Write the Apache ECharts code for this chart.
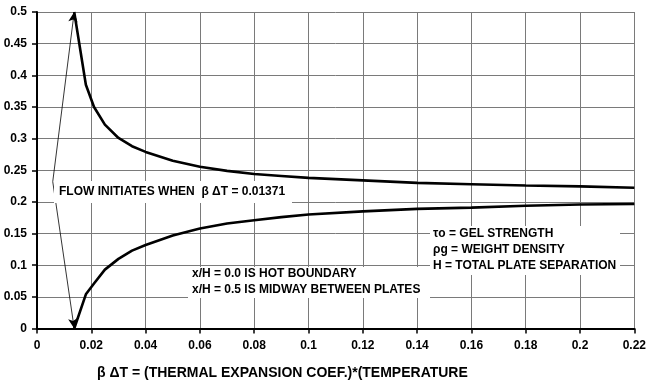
<!DOCTYPE html>
<html><head><meta charset="utf-8">
<script src="https://cdn.jsdelivr.net/npm/echarts@6/dist/echarts.min.js"></script>
<style>html,body{margin:0;padding:0;background:#fff}#c{width:649px;height:386px}</style>
</head><body><div id="c"></div>
<script>
const xValues = [0.01371, 0.018, 0.021, 0.025, 0.03, 0.035, 0.04, 0.05, 0.06, 0.07, 0.08, 0.09, 0.1, 0.12, 0.14, 0.16, 0.18, 0.2, 0.22];
const upperCurve = [0.5, 0.385, 0.35, 0.322, 0.301, 0.288, 0.279, 0.265, 0.2555, 0.249, 0.244, 0.241, 0.238, 0.234, 0.230, 0.228, 0.226, 0.2246, 0.2224];
const lowerCurve = [0, 0.054, 0.071, 0.093, 0.110, 0.123, 0.132, 0.147, 0.158, 0.166, 0.171, 0.176, 0.180, 0.185, 0.189, 0.191, 0.194, 0.196, 0.1967];
const arrowOrigin = [0.0058, 0.232];
const arrowTargets = [[0.01371, 0.5], [0.01371, 0]];
const xTicks = {min: 0, max: 0.22, interval: 0.02};
const yTicks = {min: 0, max: 0.5, interval: 0.05};
const flowNote = "FLOW INITIATES WHEN  \u03b2 \u0394T = 0.01371";
const symbolNotes = ["\u03c4o = GEL STRENGTH", "\u03c1g = WEIGHT DENSITY", "H = TOTAL PLATE SEPARATION"];
const curveNotes = ["x/H = 0.0 IS HOT BOUNDARY", "x/H = 0.5 IS MIDWAY BETWEEN PLATES"];
const xTitle = "\u03b2 \u0394T = (THERMAL EXPANSION COEF.)*(TEMPERATURE";

const FONT = '"Liberation Sans", Arial, sans-serif';
const chart = echarts.init(document.getElementById('c'), null, {renderer: 'canvas'});
const pair = (ys) => xValues.map((x, i) => [x, ys[i]]);
const txt = (s, x, y, size) => ({type: 'text', left: x, top: y, z: 10,
  style: {text: s, fill: '#000', font: 'bold ' + (size || 12) + 'px ' + FONT}});
const box = (x, y, w, h) => ({type: 'rect', shape: {x, y, width: w, height: h}, z: 9,
  style: {fill: '#fff'}});

chart.setOption({
  animation: false,
  grid: {left: 37, right: 12, top: 12, bottom: 57.5, containLabel: false},
  xAxis: {type: 'value', min: xTicks.min, max: xTicks.max, interval: xTicks.interval,
    axisLine: {onZero: false, lineStyle: {color: '#000', width: 2}},
    axisTick: {show: true, inside: false, length: 5, lineStyle: {color: '#000', width: 1.5}},
    axisLabel: {color: '#000', fontWeight: 'bold', fontSize: 12, fontFamily: FONT, margin: 11},
    splitLine: {show: true, lineStyle: {color: '#7a7a7a', width: 1}}},
  yAxis: {type: 'value', min: yTicks.min, max: yTicks.max, interval: yTicks.interval,
    axisLine: {show: true, onZero: false, lineStyle: {color: '#000', width: 2}},
    axisTick: {show: true, inside: false, length: 5, lineStyle: {color: '#000', width: 1.5}},
    axisLabel: {color: '#000', fontWeight: 'bold', fontSize: 12, fontFamily: FONT, margin: 10},
    splitLine: {show: true, lineStyle: {color: '#7a7a7a', width: 1}}},
  series: [
    {type: 'line', data: pair(upperCurve), showSymbol: false, z: 5,
      lineStyle: {color: '#000', width: 2.6},
      markLine: {silent: true, symbol: ['none', 'arrow'], symbolSize: [7, 10], label: {show: false},
        lineStyle: {color: '#000', width: 0.8, type: 'solid'},
        data: arrowTargets.map(t => [{coord: arrowOrigin}, {coord: t}])}},
    {type: 'line', data: pair(lowerCurve), showSymbol: false, z: 5,
      lineStyle: {color: '#000', width: 2.6}}
  ],
  graphic: [
    box(54, 181, 238, 22),
    box(430, 226, 190, 49),
    box(188, 267, 242, 31),
    txt(flowNote, 59, 186),
    txt(symbolNotes[0], 433, 228),
    txt(symbolNotes[1], 433, 244),
    txt(symbolNotes[2], 433, 260),
    txt(curveNotes[0], 192, 268),
    txt(curveNotes[1], 192, 284),
    {type: 'text', left: 97, top: 366, z: 10,
      style: {text: xTitle, fill: '#000', font: 'bold 14px ' + FONT}}
  ]
});
</script></body></html>
